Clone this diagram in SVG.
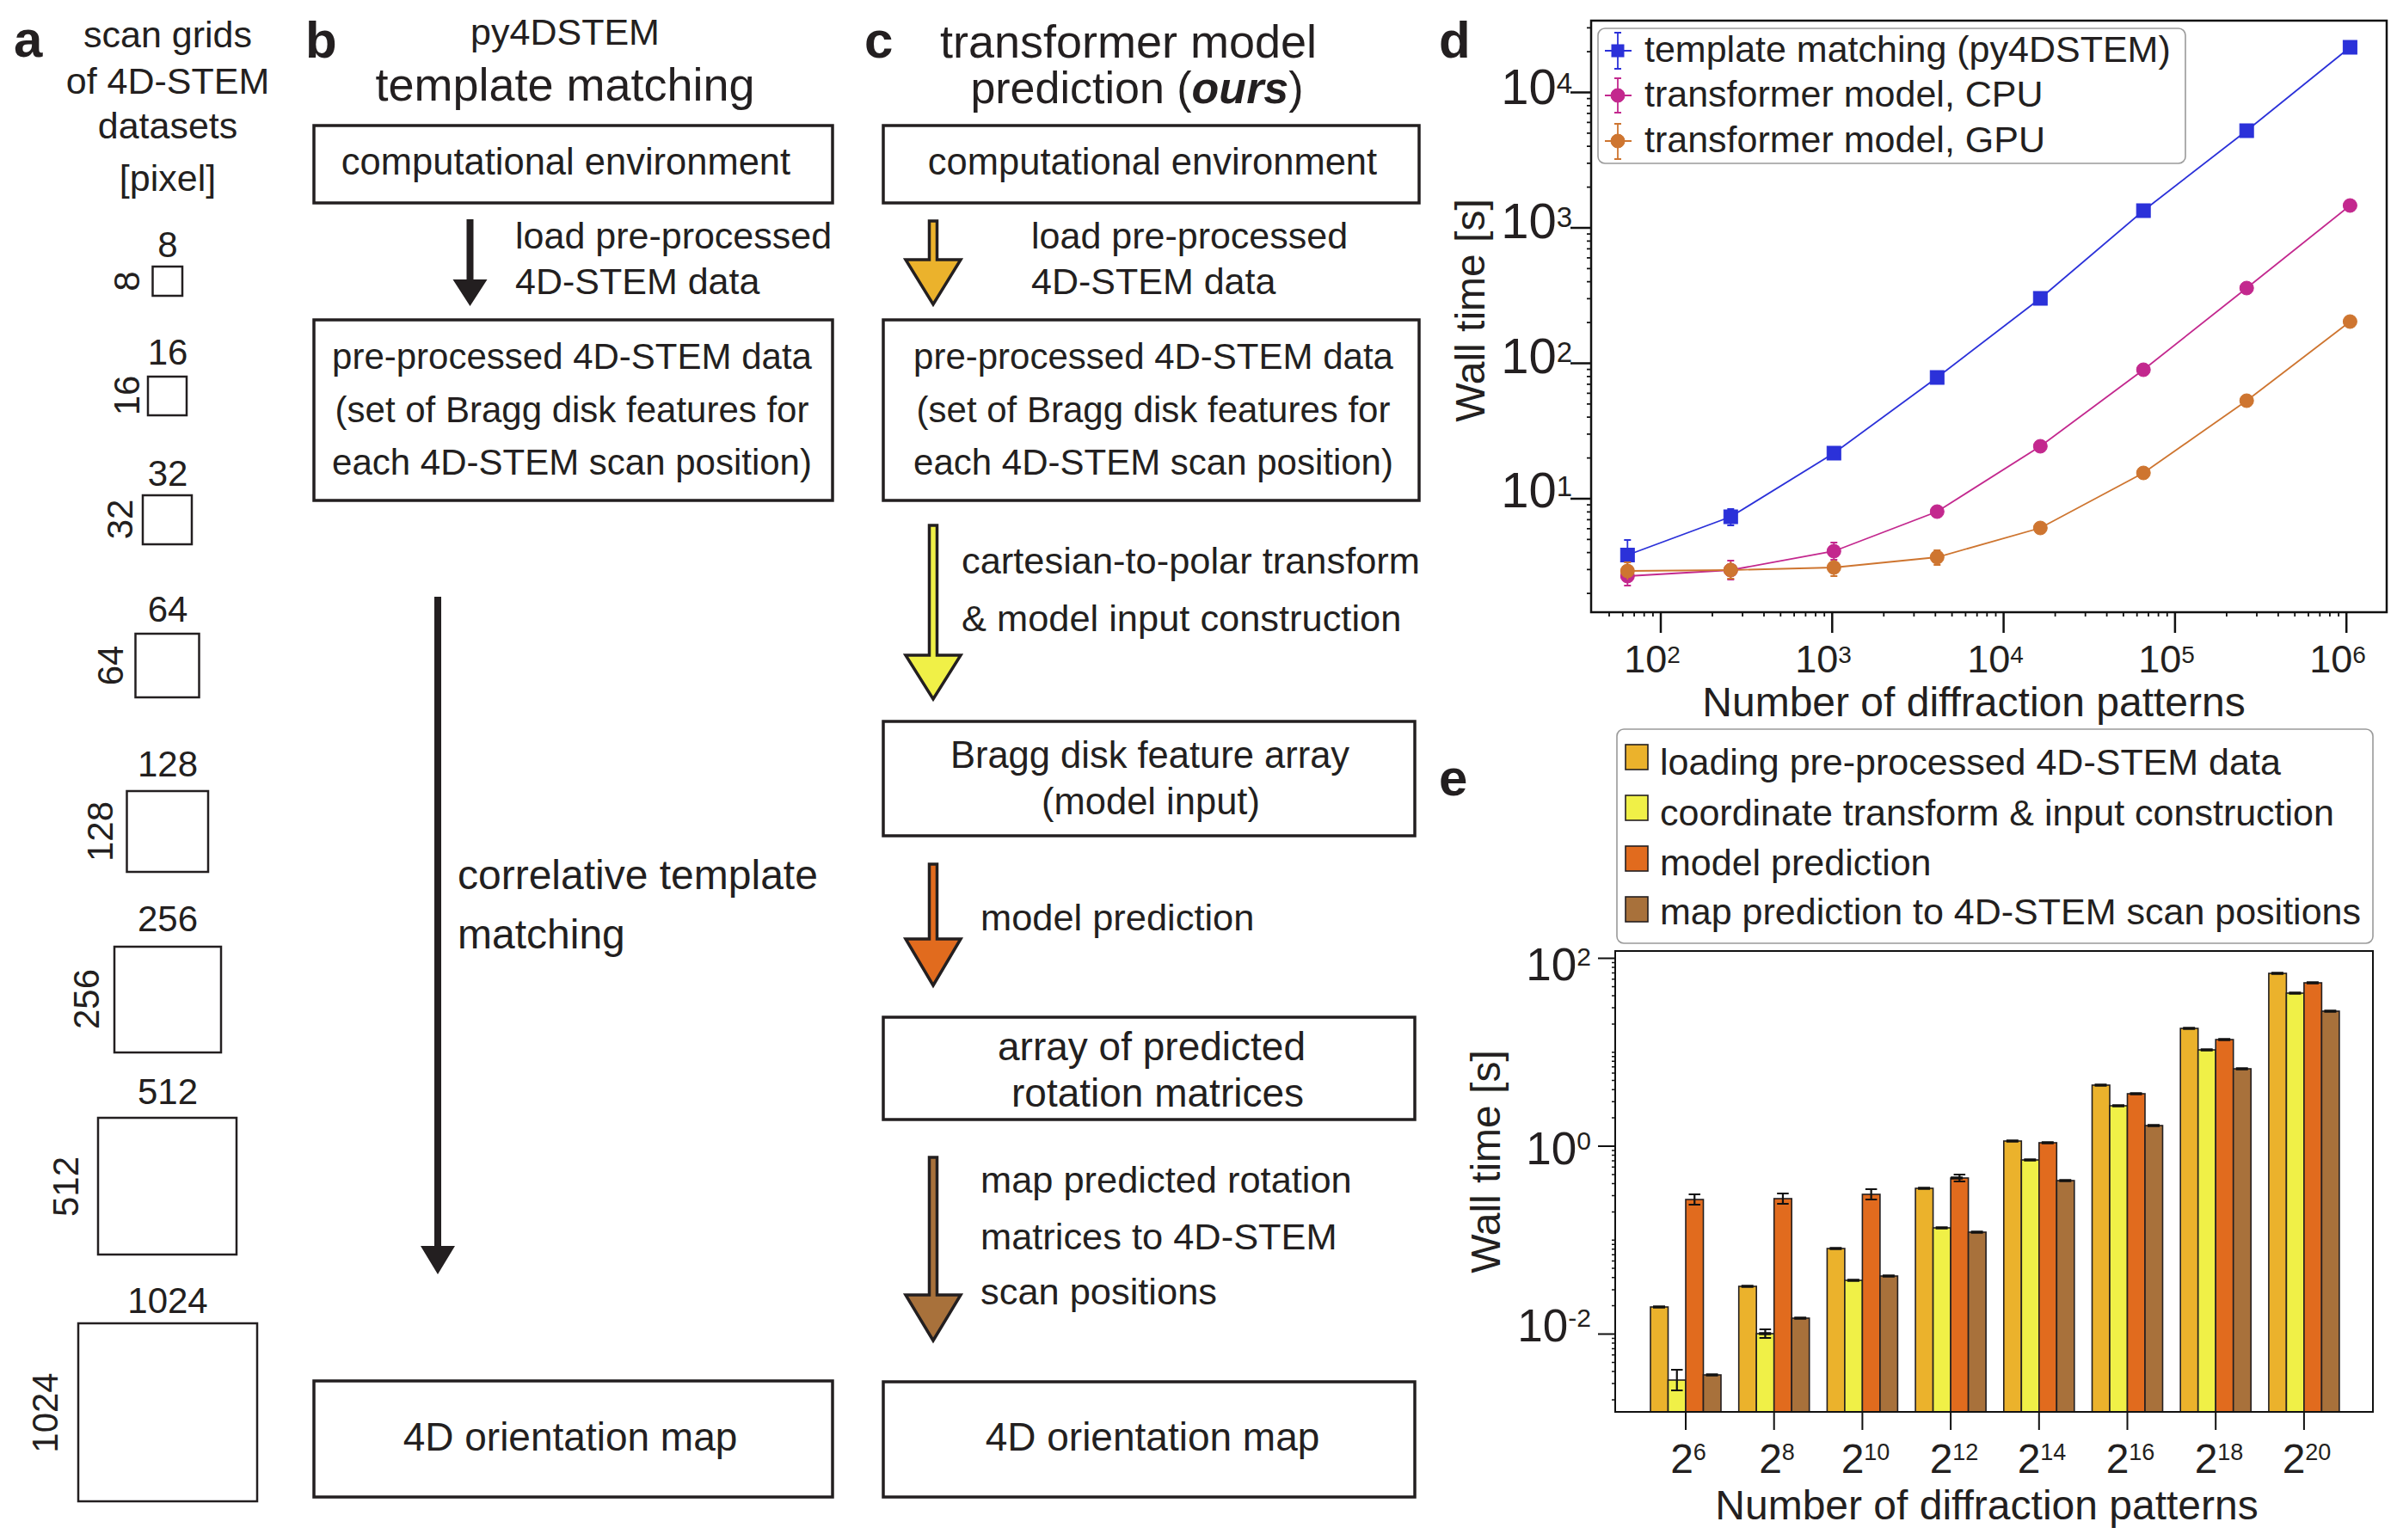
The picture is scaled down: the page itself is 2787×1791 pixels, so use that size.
<svg xmlns="http://www.w3.org/2000/svg" width="2787" height="1791" viewBox="0 0 2787 1791">
<style>
text { font-family: "Liberation Sans", Arial, Helvetica, sans-serif; fill: #231F20; }
.lbl { font-weight: bold; font-size: 60px; }
.t43 { font-size: 43px; }
.num { font-size: 42px; }
.grid { fill: none; stroke: #231F20; stroke-width: 2.5; }
.box { fill: none; stroke: #231F20; stroke-width: 3.5; }
.frame { fill: none; stroke: #111; stroke-width: 2.5; }
.tick { fill: none; stroke: #111; stroke-width: 2.5; }
.mtick { fill: none; stroke: #111; stroke-width: 1.8; }
.carrow { stroke: #231F20; stroke-width: 3.5; stroke-linejoin: miter; }
.legbox { fill: #fff; stroke: #9a9a9a; stroke-width: 1.6; }
.bar { stroke: #231F20; stroke-width: 1.6; }
.err { fill: none; stroke: #111; stroke-width: 2.2; }
.cap { fill: none; stroke: #111; stroke-width: 3.5; }
.gold { fill: #EBB22C; }
.yel { fill: #F0F047; }
.org { fill: #E16B1E; }
.brn { fill: #A8713B; }
.blue { stroke: #2B31D9; fill: #2B31D9; }
.mag { stroke: #C3288E; fill: #C3288E; }
.ora { stroke: #CE7530; fill: #CE7530; }
.ln { fill: none; stroke-width: 1.8; }
.eb { fill: none; stroke-width: 1.8; }
</style>
<rect width="2787" height="1791" fill="#ffffff"/>

<!-- Panel a -->
<g id="panel-a">
  <text class="lbl" x="16" y="66">a</text>
  <text class="t43" x="195" y="55" text-anchor="middle">scan grids</text>
  <text class="t43" x="195" y="109" text-anchor="middle">of 4D-STEM</text>
  <text class="t43" x="195" y="161" text-anchor="middle">datasets</text>
  <text class="t43" x="195" y="222" text-anchor="middle">[pixel]</text>
  <g id="grid-8">
    <rect class="grid" x="177.5" y="310" width="34.5" height="34"/>
    <text class="num" x="195" y="299" text-anchor="middle">8</text>
    <text class="num" transform="translate(162,327) rotate(-90)" text-anchor="middle">8</text>
  </g>
  <g id="grid-16">
    <rect class="grid" x="172" y="438" width="45" height="45"/>
    <text class="num" x="195" y="424" text-anchor="middle">16</text>
    <text class="num" transform="translate(162,460) rotate(-90)" text-anchor="middle">16</text>
  </g>
  <g id="grid-32">
    <rect class="grid" x="166" y="576" width="57" height="57"/>
    <text class="num" x="195" y="565" text-anchor="middle">32</text>
    <text class="num" transform="translate(154,604) rotate(-90)" text-anchor="middle">32</text>
  </g>
  <g id="grid-64">
    <rect class="grid" x="157.5" y="737" width="74" height="74"/>
    <text class="num" x="195" y="723" text-anchor="middle">64</text>
    <text class="num" transform="translate(143,774) rotate(-90)" text-anchor="middle">64</text>
  </g>
  <g id="grid-128">
    <rect class="grid" x="147.5" y="920" width="94.5" height="94"/>
    <text class="num" x="195" y="903" text-anchor="middle">128</text>
    <text class="num" transform="translate(131,967) rotate(-90)" text-anchor="middle">128</text>
  </g>
  <g id="grid-256">
    <rect class="grid" x="133" y="1101" width="124" height="123"/>
    <text class="num" x="195" y="1083" text-anchor="middle">256</text>
    <text class="num" transform="translate(115,1162) rotate(-90)" text-anchor="middle">256</text>
  </g>
  <g id="grid-512">
    <rect class="grid" x="114" y="1300" width="161" height="159"/>
    <text class="num" x="195" y="1284" text-anchor="middle">512</text>
    <text class="num" transform="translate(91,1380) rotate(-90)" text-anchor="middle">512</text>
  </g>
  <g id="grid-1024">
    <rect class="grid" x="91" y="1539" width="208" height="207"/>
    <text class="num" x="195" y="1527" text-anchor="middle">1024</text>
    <text class="num" transform="translate(67,1643) rotate(-90)" text-anchor="middle">1024</text>
  </g>
</g>

<!-- Panel b -->
<g id="panel-b-title">
  <text class="lbl" x="355" y="67">b</text>
  <text x="657" y="52" text-anchor="middle" font-size="43">py4DSTEM</text>
  <text x="657" y="117" text-anchor="middle" font-size="54">template matching</text>
</g>
<g id="b-env">
  <rect class="box" x="365" y="146" width="603" height="90"/>
  <text x="658" y="203" text-anchor="middle" font-size="43.5">computational environment</text>
</g>
<g id="b-data">
  <rect class="box" x="365" y="372" width="603" height="210"/>
  <text x="665" y="429" text-anchor="middle" font-size="42">pre-processed 4D-STEM data</text>
  <text x="665" y="491" text-anchor="middle" font-size="42">(set of Bragg disk features for</text>
  <text x="665" y="552" text-anchor="middle" font-size="42">each 4D-STEM scan position)</text>
</g>
<g id="b-map">
  <rect class="box" x="365" y="1606" width="603" height="135"/>
  <text x="663" y="1687" text-anchor="middle" font-size="46">4D orientation map</text>
</g>

<!-- Panel c -->
<g id="panel-c-title">
  <text class="lbl" x="1005" y="67">c</text>
  <text x="1312" y="67" text-anchor="middle" font-size="54">transformer model</text>
  <text x="1322" y="120" text-anchor="middle" font-size="52">prediction (<tspan font-weight="bold" font-style="italic">ours</tspan>)</text>
</g>
<g id="c-env">
  <rect class="box" x="1027" y="146" width="623" height="90"/>
  <text x="1340" y="203" text-anchor="middle" font-size="43.5">computational environment</text>
</g>
<g id="c-data">
  <rect class="box" x="1027" y="372" width="623" height="210"/>
  <text x="1341" y="429" text-anchor="middle" font-size="42">pre-processed 4D-STEM data</text>
  <text x="1341" y="491" text-anchor="middle" font-size="42">(set of Bragg disk features for</text>
  <text x="1341" y="552" text-anchor="middle" font-size="42">each 4D-STEM scan position)</text>
</g>
<g id="c-input">
  <rect class="box" x="1027" y="839" width="618" height="133"/>
  <text x="1337" y="893" text-anchor="middle" font-size="43.5">Bragg disk feature array</text>
  <text x="1338" y="947" text-anchor="middle" font-size="43.5">(model input)</text>
</g>
<g id="c-rot">
  <rect class="box" x="1027" y="1183" width="618" height="119"/>
  <text x="1339" y="1233" text-anchor="middle" font-size="46">array of predicted</text>
  <text x="1346" y="1287" text-anchor="middle" font-size="46">rotation matrices</text>
</g>
<g id="c-map">
  <rect class="box" x="1027" y="1607" width="618" height="134"/>
  <text x="1340" y="1687" text-anchor="middle" font-size="46">4D orientation map</text>
</g>

<!-- Connectors -->
<g id="connectors">
  <path d="M542.5,255 H550.5 V325 H566.5 L546.5,356 L526.5,325 H542.5 Z" fill="#231F20"/>
  <text x="599" y="289" font-size="43">load pre-processed</text>
  <text x="599" y="342" font-size="43">4D-STEM data</text>

  <path d="M505,694 H513 V1449 H529 L509,1482 L489,1449 H505 Z" fill="#231F20"/>
  <text x="532" y="1034" font-size="48">correlative template</text>
  <text x="532" y="1103" font-size="48">matching</text>

  <path class="carrow gold" d="M1080.5,257 H1089.5 V302 H1117 L1085,354 L1053,302 H1080.5 Z"/>
  <text x="1199" y="289" font-size="43">load pre-processed</text>
  <text x="1199" y="342" font-size="43">4D-STEM data</text>

  <path class="carrow yel" d="M1080.5,611 H1089.5 V762 H1117 L1085,813 L1053,762 H1080.5 Z"/>
  <text x="1118" y="667" font-size="43.4">cartesian-to-polar transform</text>
  <text x="1118" y="734" font-size="43.4">&amp; model input construction</text>

  <path class="carrow org" d="M1080.5,1005 H1089.5 V1092 H1117 L1085,1146 L1053,1092 H1080.5 Z"/>
  <text x="1140" y="1082" font-size="43.4">model prediction</text>

  <path class="carrow brn" d="M1080.5,1346 H1089.5 V1506 H1117 L1085,1559 L1053,1506 H1080.5 Z"/>
  <text x="1140" y="1387" font-size="43.4">map predicted rotation</text>
  <text x="1140" y="1453" font-size="43.4">matrices to 4D-STEM</text>
  <text x="1140" y="1517" font-size="43.4">scan positions</text>
</g>

<!-- Panel d -->
<g id="chart-d">
  <text class="lbl" x="1673" y="67">d</text>
  <rect class="frame" x="1850" y="24" width="925" height="688"/>
  <path class="tick" d="M1826,580H1850M1826,422.5H1850M1826,265H1850M1826,107.5H1850M1931,712V736M2130.3,712V736M2329.6,712V736M2528.9,712V736M2728.2,712V736"/>
  <path class="mtick" d="M1845,690.1h5M1845,662.35h5M1845,642.7h5M1845,627.4h5M1845,614.9h5M1845,604.4h5M1845,595.3h5M1845,587.2h5M1845,532.6h5M1845,504.85h5M1845,485.2h5M1845,469.9h5M1845,457.4h5M1845,446.9h5M1845,437.8h5M1845,429.7h5M1845,375.1h5M1845,347.35h5M1845,327.7h5M1845,312.4h5M1845,299.9h5M1845,289.4h5M1845,280.3h5M1845,272.2h5M1845,217.6h5M1845,189.85h5M1845,170.2h5M1845,154.9h5M1845,142.4h5M1845,131.9h5M1845,122.8h5M1845,114.7h5M1845,60.1h5M1845,32.35h5
  M1871,712v5M1886.8,712v5M1900.1,712v5M1911.7,712v5M1921.9,712v5M1991,712v5M2026.1,712v5M2051,712v5M2070.3,712v5M2086.1,712v5M2099.4,712v5M2111,712v5M2121.2,712v5M2190.3,712v5M2225.4,712v5M2250.3,712v5M2269.6,712v5M2285.4,712v5M2298.7,712v5M2310.3,712v5M2320.5,712v5M2389.6,712v5M2424.7,712v5M2449.6,712v5M2468.9,712v5M2484.7,712v5M2498,712v5M2509.6,712v5M2519.8,712v5M2588.9,712v5M2624,712v5M2648.9,712v5M2668.2,712v5M2684,712v5M2697.3,712v5M2708.9,712v5M2719.1,712v5"/>
  <g font-size="58" text-anchor="end">
    <text x="1828" y="121">10<tspan font-size="33" dy="-13">4</tspan></text>
    <text x="1828" y="277">10<tspan font-size="33" dy="-13">3</tspan></text>
    <text x="1828" y="434">10<tspan font-size="33" dy="-13">2</tspan></text>
    <text x="1828" y="590">10<tspan font-size="33" dy="-13">1</tspan></text>
  </g>
  <g font-size="45" text-anchor="middle">
    <text x="1921" y="782">10<tspan font-size="28" dy="-11">2</tspan></text>
    <text x="2120" y="782">10<tspan font-size="28" dy="-11">3</tspan></text>
    <text x="2320" y="782">10<tspan font-size="28" dy="-11">4</tspan></text>
    <text x="2519" y="782">10<tspan font-size="28" dy="-11">5</tspan></text>
    <text x="2718" y="782">10<tspan font-size="28" dy="-11">6</tspan></text>
  </g>
  <text x="2295" y="833" text-anchor="middle" font-size="48">Number of diffraction patterns</text>
  <text transform="translate(1726,361) rotate(-90)" text-anchor="middle" font-size="48">Wall time [s]</text>

  <g id="series-template">
    <polyline class="blue ln" fill="none" points="1892.3,645.5 2012.3,601 2132.3,527 2252.3,439 2372.3,347 2492.2,245 2612.2,152 2732.4,55"/>
    <path class="blue eb" d="M1892.3,628V664M1888.3,628h8M2012.3,592V611M2008.3,592h8M2008.3,611h8"/>
    <g class="blue">
      <rect x="1884.3" y="637.5" width="16" height="16"/>
      <rect x="2004.3" y="593" width="16" height="16"/>
      <rect x="2124.3" y="519" width="16" height="16"/>
      <rect x="2244.3" y="431" width="16" height="16"/>
      <rect x="2364.3" y="339" width="16" height="16"/>
      <rect x="2484.2" y="237" width="16" height="16"/>
      <rect x="2604.2" y="144" width="16" height="16"/>
      <rect x="2724.4" y="47" width="16" height="16"/>
    </g>
  </g>
  <g id="series-cpu">
    <polyline class="mag ln" fill="none" points="1892.3,670 2012.3,663 2132.3,641 2252.3,595 2372.3,519 2492.2,430 2612.2,335 2732.4,239"/>
    <path class="mag eb" d="M1892.3,656V681M1888.3,681h8M2012.3,652V674M2008.3,652h8M2008.3,674h8M2132.3,631V651M2128.3,631h8M2128.3,651h8"/>
    <g class="mag">
      <circle cx="1892.3" cy="670" r="8"/>
      <circle cx="2012.3" cy="663" r="8"/>
      <circle cx="2132.3" cy="641" r="8"/>
      <circle cx="2252.3" cy="595" r="8"/>
      <circle cx="2372.3" cy="519" r="8"/>
      <circle cx="2492.2" cy="430" r="8"/>
      <circle cx="2612.2" cy="335" r="8"/>
      <circle cx="2732.4" cy="239" r="8"/>
    </g>
  </g>
  <g id="series-gpu">
    <polyline class="ora ln" fill="none" points="1892.3,664 2012.3,663 2132.3,660 2252.3,648 2372.3,614 2492.2,550 2612.2,466 2732.4,374"/>
    <path class="ora eb" d="M1892.3,654V674M1888.3,654h8M2012.3,653V673M2008.3,673h8M2132.3,651V670M2128.3,670h8M2252.3,640V657M2248.3,640h8M2248.3,657h8"/>
    <g class="ora">
      <circle cx="1892.3" cy="664" r="8"/>
      <circle cx="2012.3" cy="663" r="8"/>
      <circle cx="2132.3" cy="660" r="8"/>
      <circle cx="2252.3" cy="648" r="8"/>
      <circle cx="2372.3" cy="614" r="8"/>
      <circle cx="2492.2" cy="550" r="8"/>
      <circle cx="2612.2" cy="466" r="8"/>
      <circle cx="2732.4" cy="374" r="8"/>
    </g>
  </g>
  <g id="legend-d">
    <rect class="legbox" x="1858" y="33" width="683" height="157" rx="8"/>
    <path class="blue eb" d="M1866,59H1897M1881,38V80M1877,38h8M1877,80h8"/>
    <rect class="blue" x="1874" y="52" width="14" height="14"/>
    <text x="1912" y="72" font-size="43">template matching (py4DSTEM)</text>
    <path class="mag eb" d="M1866,111H1897M1881,91V131M1877,91h8M1877,131h8"/>
    <circle class="mag" cx="1881" cy="111" r="8"/>
    <text x="1912" y="124" font-size="43">transformer model, CPU</text>
    <path class="ora eb" d="M1866,164H1897M1881,144V185M1877,144h8M1877,185h8"/>
    <circle class="ora" cx="1881" cy="164" r="8"/>
    <text x="1912" y="177" font-size="43">transformer model, GPU</text>
  </g>
</g>

<!-- Panel e -->
<g id="chart-e">
  <text class="lbl" x="1673" y="925">e</text>
  <g id="legend-e">
    <rect class="legbox" x="1880" y="848" width="879" height="249" rx="8"/>
    <rect class="bar gold" x="1890" y="866" width="26" height="29"/>
    <text x="1930" y="901" font-size="43">loading pre-processed 4D-STEM data</text>
    <rect class="bar yel" x="1890" y="925" width="26" height="29"/>
    <text x="1930" y="960" font-size="43">coordinate transform &amp; input construction</text>
    <rect class="bar org" x="1890" y="984" width="26" height="29"/>
    <text x="1930" y="1018" font-size="43">model prediction</text>
    <rect class="bar brn" x="1890" y="1043" width="26" height="29"/>
    <text x="1930" y="1075" font-size="43">map prediction to 4D-STEM scan positions</text>
  </g>
  <g id="bars">
    <rect class="bar gold" x="1919" y="1520" width="20.5" height="122"/>
    <rect class="bar yel" x="1939.5" y="1605" width="20.5" height="37"/>
    <rect class="bar org" x="1960" y="1395" width="20.5" height="247"/>
    <rect class="bar brn" x="1980.5" y="1599" width="20.5" height="43"/>

    <rect class="bar gold" x="2021.7" y="1496" width="20.5" height="146"/>
    <rect class="bar yel" x="2042.2" y="1551" width="20.5" height="91"/>
    <rect class="bar org" x="2062.7" y="1394" width="20.5" height="248"/>
    <rect class="bar brn" x="2083.2" y="1533" width="20.5" height="109"/>

    <rect class="bar gold" x="2124.4" y="1452" width="20.5" height="190"/>
    <rect class="bar yel" x="2144.9" y="1489" width="20.5" height="153"/>
    <rect class="bar org" x="2165.4" y="1389" width="20.5" height="253"/>
    <rect class="bar brn" x="2185.9" y="1484" width="20.5" height="158"/>

    <rect class="bar gold" x="2227.1" y="1382" width="20.5" height="260"/>
    <rect class="bar yel" x="2247.6" y="1428" width="20.5" height="214"/>
    <rect class="bar org" x="2268.1" y="1370" width="20.5" height="272"/>
    <rect class="bar brn" x="2288.6" y="1433" width="20.5" height="209"/>

    <rect class="bar gold" x="2329.8" y="1327" width="20.5" height="315"/>
    <rect class="bar yel" x="2350.3" y="1349" width="20.5" height="293"/>
    <rect class="bar org" x="2370.8" y="1329" width="20.5" height="313"/>
    <rect class="bar brn" x="2391.3" y="1373" width="20.5" height="269"/>

    <rect class="bar gold" x="2432.5" y="1262" width="20.5" height="380"/>
    <rect class="bar yel" x="2453" y="1286" width="20.5" height="356"/>
    <rect class="bar org" x="2473.5" y="1272" width="20.5" height="370"/>
    <rect class="bar brn" x="2494" y="1309" width="20.5" height="333"/>

    <rect class="bar gold" x="2535.2" y="1196" width="20.5" height="446"/>
    <rect class="bar yel" x="2555.7" y="1221" width="20.5" height="421"/>
    <rect class="bar org" x="2576.2" y="1209" width="20.5" height="433"/>
    <rect class="bar brn" x="2596.7" y="1243" width="20.5" height="399"/>

    <rect class="bar gold" x="2637.9" y="1132" width="20.5" height="510"/>
    <rect class="bar yel" x="2658.4" y="1155" width="20.5" height="487"/>
    <rect class="bar org" x="2678.9" y="1143" width="20.5" height="499"/>
    <rect class="bar brn" x="2699.4" y="1176" width="20.5" height="466"/>
  </g>
  <g id="errorbars">
    <path class="cap" d="M1922,1520h14M2024.7,1496h14M2127.4,1452h14M2230.1,1382h14M2332.8,1327h14M2435.5,1262h14M2538.2,1196h14M2640.9,1132h14
    M2045.2,1551h14M2147.9,1489h14M2250.6,1428h14M2353.3,1349h14M2456,1286h14M2558.7,1221h14M2661.4,1155h14
    M2268.1,1370h14M2373.8,1329h14M2476.5,1272h14M2579.2,1209h14M2681.9,1143h14
    M1983.5,1599h14M2086.2,1533h14M2188.9,1484h14M2291.6,1433h14M2394.3,1373h14M2497,1309h14M2599.7,1243h14M2702.4,1176h14"/>
    <path class="err" d="M1949.75,1593V1617M1943,1593h13.5M1943,1617h13.5
    M2052.45,1546V1556M2045.7,1546h13.5M2045.7,1556h13.5
    M1970.25,1389V1401M1963.5,1389h13.5M1963.5,1401h13.5
    M2072.95,1388V1400M2066.2,1388h13.5M2066.2,1400h13.5
    M2175.65,1383V1395M2168.9,1383h13.5M2168.9,1395h13.5
    M2278.35,1366V1374M2271.6,1366h13.5M2271.6,1374h13.5"/>
  </g>
  <rect class="frame" x="1878" y="1106" width="881" height="536" style="stroke-width:2"/>
  <path class="tick" style="stroke-width:2" d="M1858,1114.5H1878M1858,1333H1878M1858,1551.5H1878M1960,1642V1663M2062.7,1642V1663M2165.4,1642V1663M2268.1,1642V1663M2370.8,1642V1663M2473.5,1642V1663M2576.2,1642V1663M2678.9,1642V1663"/>
  <path class="mtick" style="stroke-width:1.5" d="M1874,1627.9h4M1874,1609.1h4M1874,1595h4M1874,1584.4h4M1874,1575.7h4M1874,1568.4h4M1874,1562.1h4M1874,1556.5h4M1874,1518.6h4M1874,1499.9h4M1874,1485.7h4M1874,1475.1h4M1874,1466.5h4M1874,1459.2h4M1874,1452.8h4M1874,1447.3h4M1874,1442.25h4M1874,1409.4h4M1874,1390.6h4M1874,1376.5h4M1874,1365.9h4M1874,1357.2h4M1874,1349.9h4M1874,1343.6h4M1874,1338h4M1874,1300.1h4M1874,1281.35h4M1874,1267.2h4M1874,1256.6h4M1874,1248h4M1874,1240.7h4M1874,1234.3h4M1874,1228.75h4M1874,1223.75h4M1874,1190.9h4M1874,1172.1h4M1874,1158h4M1874,1147.4h4M1874,1138.7h4M1874,1131.4h4M1874,1125.1h4M1874,1119.5h4"/>
  <g font-size="53" text-anchor="end">
    <text x="1850" y="1140">10<tspan font-size="30" dy="-17">2</tspan></text>
    <text x="1850" y="1354">10<tspan font-size="30" dy="-17">0</tspan></text>
    <text x="1850" y="1560">10<tspan font-size="30" dy="-17">-2</tspan></text>
  </g>
  <g font-size="48" text-anchor="middle">
    <text x="1963" y="1713">2<tspan font-size="27" dy="-15">6</tspan></text>
    <text x="2066" y="1713">2<tspan font-size="27" dy="-15">8</tspan></text>
    <text x="2169" y="1713">2<tspan font-size="27" dy="-15">10</tspan></text>
    <text x="2272" y="1713">2<tspan font-size="27" dy="-15">12</tspan></text>
    <text x="2374" y="1713">2<tspan font-size="27" dy="-15">14</tspan></text>
    <text x="2477" y="1713">2<tspan font-size="27" dy="-15">16</tspan></text>
    <text x="2580" y="1713">2<tspan font-size="27" dy="-15">18</tspan></text>
    <text x="2682" y="1713">2<tspan font-size="27" dy="-15">20</tspan></text>
  </g>
  <text x="2310" y="1767" text-anchor="middle" font-size="48">Number of diffraction patterns</text>
  <text transform="translate(1744,1351) rotate(-90)" text-anchor="middle" font-size="48">Wall time [s]</text>
</g>
</svg>
